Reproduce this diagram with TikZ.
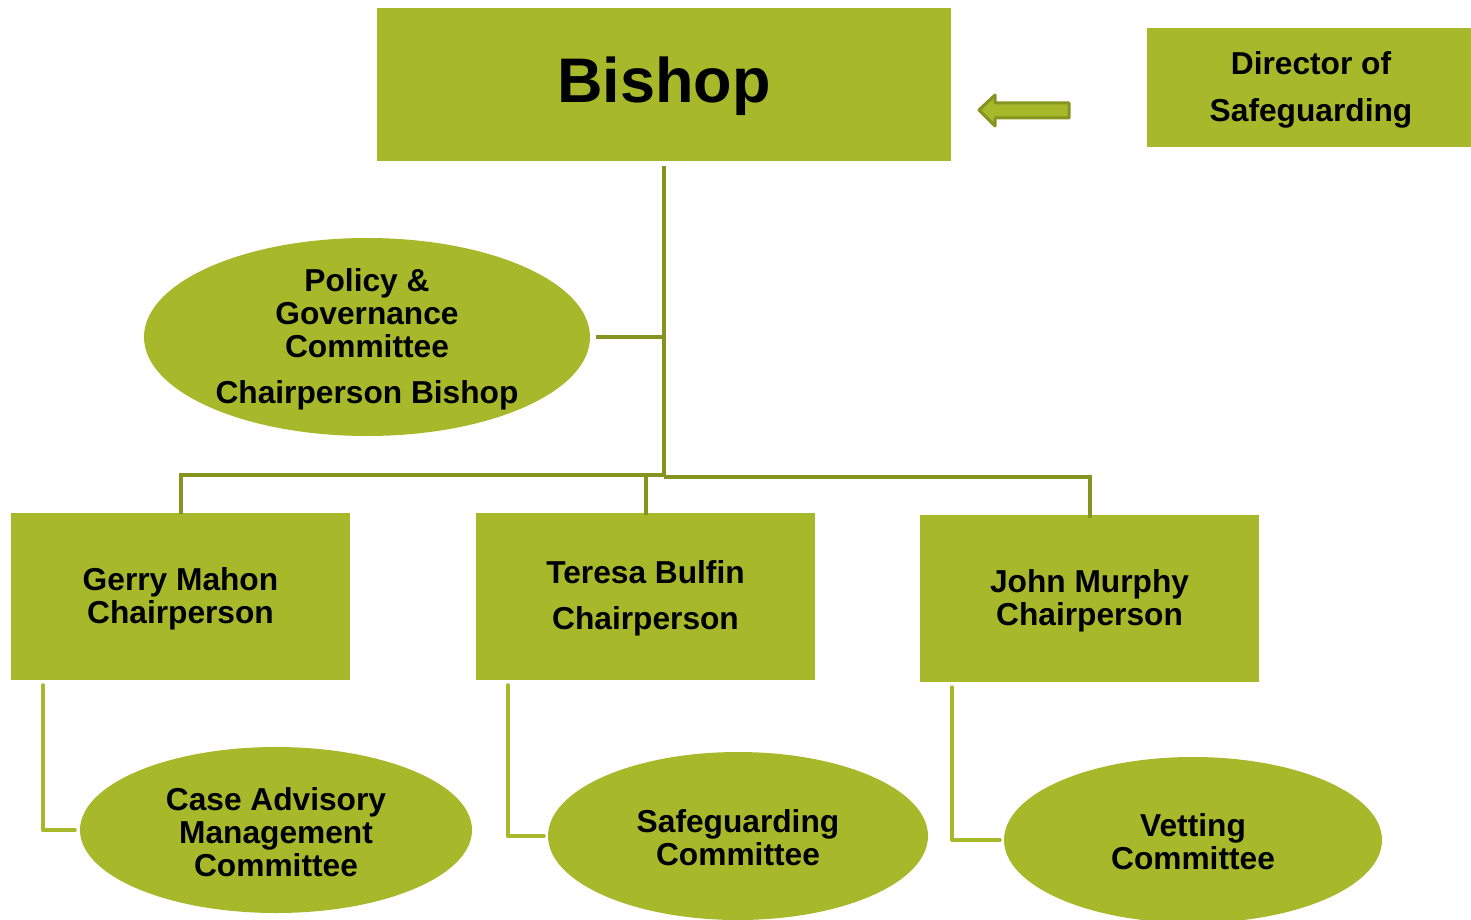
\documentclass[tikz,border=0pt]{standalone}
\usepackage{fontspec}
\setmainfont{Liberation Sans}
\usetikzlibrary{shapes.geometric}
\definecolor{leaf}{HTML}{A7B82B}
\definecolor{olive}{HTML}{85931F}
\tikzset{
  box/.style={rectangle, fill=leaf, draw=none, inner sep=0pt},
  oval/.style={ellipse, fill=leaf, draw=none, inner sep=0pt},
  txt/.style={align=center, inner sep=0pt, yshift=-2pt, font=\fontsize{31.7}{33}\selectfont\bfseries},
  topline/.style={draw=olive, line width=4pt},
  lowline/.style={draw=leaf, line width=4pt, line cap=round, line join=round},
}
\begin{document}
\begin{tikzpicture}[x=1pt,y=-1pt]
\useasboundingbox (0,0) rectangle (1471,920);
% boxes
\node[box, minimum width=574pt, minimum height=153pt] (bishop) at (664,84.5) {};
\node[txt, font=\fontsize{63}{66}\selectfont\bfseries] (bishopT) at (bishop.center) {Bishop};
\node[box, minimum width=324pt, minimum height=119pt] (dir) at (1309,87.5) {};
\node[txt] (dirT) at ([xshift=2pt]dir.center) {Director of\\[14pt]Safeguarding};
\node[oval, minimum width=446pt, minimum height=198pt] (policy) at (367,337) {};
\node[txt] (policyT) at (policy.center) {Policy \&\\Governance\\Committee\\[13pt]Chairperson Bishop};
\node[box, minimum width=339pt, minimum height=167pt] (gerry) at (180.5,596.5) {};
\node[txt] (gerryT) at (gerry.center) {Gerry Mahon\\Chairperson};
\node[box, minimum width=339pt, minimum height=167pt] (teresa) at (645.5,596.5) {};
\node[txt] (teresaT) at (teresa.center) {Teresa Bulfin\\[13pt]Chairperson};
\node[box, minimum width=339pt, minimum height=167pt] (john) at (1089.5,598.5) {};
\node[txt] (johnT) at (john.center) {John Murphy\\Chairperson};
\node[oval, minimum width=392pt, minimum height=166pt] (case) at (276,830) {};
\node[txt] (caseT) at (case.center) {Case Advisory\\Management\\Committee};
\node[oval, minimum width=380pt, minimum height=168pt] (safe) at (738,836) {};
\node[txt] (safeT) at (safe.center) {Safeguarding\\Committee};
\node[oval, minimum width=378pt, minimum height=166pt] (vet) at (1193,840) {};
\node[txt] (vetT) at (vet.center) {Vetting\\Committee};
% arrow from Director to Bishop
\draw[draw=olive, fill=leaf, line width=3pt, line join=round]
  (979,110) -- (995,95) -- (995,103) -- (1069,103) -- (1069,118) -- (995,118) -- (995,126) -- cycle;
% top connectors
\coordinate (j) at (664,475);
\draw[topline] ([yshift=-5pt]bishop.south) -- ([yshift=-2pt]j);
\draw[topline] ([xshift=6pt]policy.east) -- (policy.east -| j);
\draw[topline] ([yshift=-1pt]gerry.north) -- (gerry.north |- j) -- (j);
\draw[topline] ([yshift=-2pt]teresa.north) -- (teresa.north |- j);
\draw[topline] ([yshift=-2pt]j) -| ([yshift=-3pt]john.north);
% lower connectors
\draw[lowline] ([shift={(32,5)}]gerry.south west) |- ([xshift=-5pt]case.west);
\draw[lowline] ([shift={(32,5)}]teresa.south west) |- ([xshift=-4pt]safe.west);
\draw[lowline] ([shift={(32,5)}]john.south west) |- ([xshift=-4pt]vet.west);
\end{tikzpicture}
\end{document}
